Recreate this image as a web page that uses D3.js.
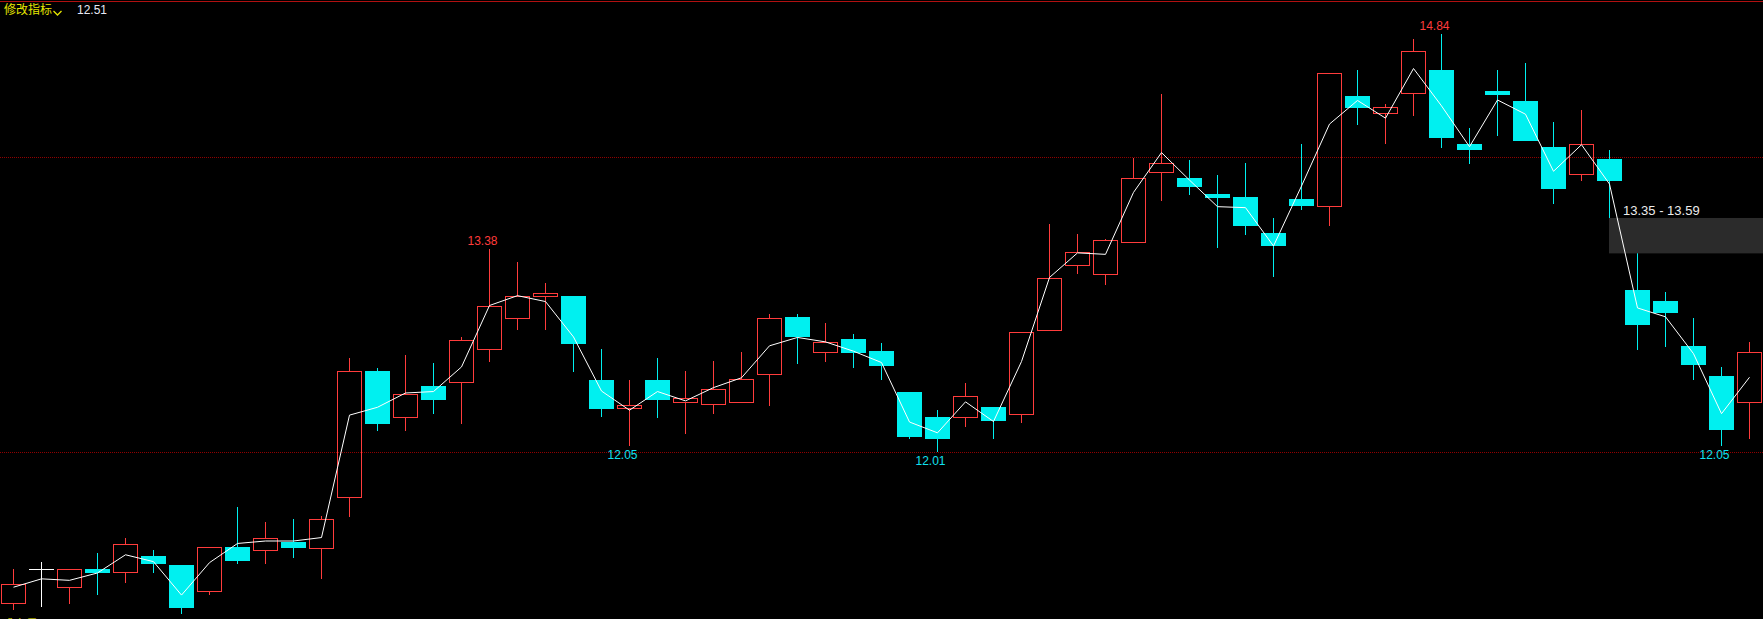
<!DOCTYPE html>
<html>
<head>
<meta charset="utf-8">
<script src="https://cdn.jsdelivr.net/npm/d3@7"></script>
<style>
  body { margin: 0; background: #000; overflow: hidden; }
  text { font-family: "Liberation Sans", Arial, sans-serif; font-size: 12px; }
</style>
</head>
<body>
<script>
let width = 1763;
let height = 619;

// daily candles
var opens  = [10.98,11.21,11.09,11.21,11.19,11.30,11.24,11.06,11.36,11.34,11.39,11.35,11.70,12.55,12.24,12.45,12.48,12.70,12.91,13.06,
              13.06,12.49,12.30,12.49,12.34,12.33,12.34,12.53,12.92,12.68,12.77,12.69,12.41,12.24,12.24,12.31,12.26,12.83,13.27,13.21,
              13.43,13.90,13.86,13.75,13.73,13.49,13.72,13.67,14.42,14.30,14.44,14.59,14.09,14.45,14.38,14.07,13.89,13.99,13.10,13.03,
              12.72,12.52,12.34];
var highs  = [11.21,11.26,11.21,11.32,11.42,11.34,11.24,11.36,11.63,11.53,11.55,11.57,12.64,12.57,12.66,12.61,12.78,13.38,13.29,13.15,
              13.06,12.70,12.49,12.64,12.55,12.62,12.68,12.94,12.94,12.88,12.80,12.74,12.41,12.29,12.47,12.31,12.82,13.55,13.48,13.45,
              14.00,14.43,13.98,13.88,13.96,13.59,14.09,14.57,14.59,14.36,14.80,14.84,14.20,14.59,14.64,14.24,14.32,14.05,13.37,13.09,
              12.91,12.58,12.75];
var lows   = [10.94,10.96,10.98,11.04,11.12,11.19,10.91,11.04,11.25,11.25,11.29,11.15,11.57,12.15,12.15,12.27,12.20,12.62,12.84,12.84,
              12.55,12.25,12.05,12.24,12.13,12.27,12.34,12.32,12.61,12.62,12.58,12.50,12.10,12.01,12.18,12.10,12.21,12.83,13.22,13.14,
              13.43,13.71,13.75,13.39,13.48,13.20,13.65,13.54,14.23,14.10,14.29,14.07,13.96,14.15,14.12,13.69,13.85,13.56,12.70,12.72,
              12.50,12.05,12.10];
var closes = [11.11,11.21,11.21,11.19,11.38,11.25,10.95,11.36,11.27,11.42,11.36,11.55,12.55,12.20,12.40,12.36,12.76,12.99,13.06,13.08,
              12.74,12.30,12.32,12.36,12.37,12.43,12.50,12.91,12.79,12.75,12.68,12.59,12.11,12.10,12.38,12.22,12.82,13.18,13.36,13.44,
              13.86,13.96,13.81,13.73,13.54,13.41,13.68,14.57,14.34,14.34,14.72,14.14,14.06,14.43,14.12,13.79,14.09,13.85,12.87,12.95,
              12.60,12.16,12.68];

var gridPrices = [14, 12];
var highMarks = [17, 51];
var lowMarks = [22, 33, 61];
var rangeStart = 57;
var rangeBand = [13.35, 13.59];
var indicatorName = "修改指标";

var UP = "#ff3c3c", DOWN = "#00f0f0";

var candles = opens.map(function (o, i) {
  return { i: i, o: o, h: highs[i], l: lows[i], c: closes[i], tp: (highs[i] + lows[i] + closes[i]) / 3 };
});

var svg = d3.select("body").append("svg")
  .attr("width", width)
  .attr("height", height);

var x = d3.scaleLinear().domain([0, 62]).range([13.5, 13.5 + 28 * 62]);
var y = d3.scaleLinear().domain([14, 12]).range([157.5, 452.5]);
function py(p) { return Math.round(y(p)); }

// top border + dotted grid
svg.append("line").attr("x1", 0).attr("x2", width).attr("y1", 1.5).attr("y2", 1.5)
  .attr("stroke", "#b01010");
svg.selectAll(".grid").data(gridPrices).enter().append("line")
  .attr("x1", 0).attr("x2", width)
  .attr("y1", d => Math.round(y(d) - 0.5) + 0.5)
  .attr("y2", d => Math.round(y(d) - 0.5) + 0.5)
  .attr("stroke", "#900000")
  .attr("stroke-dasharray", "1,1");

var g = svg.append("g").attr("shape-rendering", "crispEdges");

candles.forEach(function (d) {
  var cx = x(d.i);
  var top = Math.max(d.o, d.c), bot = Math.min(d.o, d.c);
  if (d.c > d.o) {
    // hollow red
    g.append("line").attr("x1", cx).attr("x2", cx).attr("y1", py(d.h)).attr("y2", py(top)).attr("stroke", UP);
    g.append("line").attr("x1", cx).attr("x2", cx).attr("y1", py(bot)).attr("y2", py(d.l) + 1).attr("stroke", UP);
    g.append("rect").attr("x", cx - 12).attr("y", py(top) + 0.5)
      .attr("width", 24).attr("height", Math.max(1, py(bot) - py(top)))
      .attr("fill", "none").attr("stroke", UP);
  } else if (d.c < d.o) {
    g.append("line").attr("x1", cx).attr("x2", cx).attr("y1", py(d.h)).attr("y2", py(d.l) + 1).attr("stroke", DOWN);
    g.append("rect").attr("x", cx - 12.5).attr("y", py(top))
      .attr("width", 25).attr("height", Math.max(2, py(bot) - py(top) + 1))
      .attr("fill", DOWN);
  } else {
    g.append("line").attr("x1", cx).attr("x2", cx).attr("y1", py(d.h)).attr("y2", py(d.l) + 1).attr("stroke", "#fff");
    g.append("line").attr("x1", cx - 12.5).attr("x2", cx + 12.5).attr("y1", py(d.o) + 0.5).attr("y2", py(d.o) + 0.5).attr("stroke", "#fff");
  }
});

// price band box
svg.append("rect")
  .attr("x", Math.round(x(rangeStart) - 0.5))
  .attr("y", y(rangeBand[1]))
  .attr("width", width - Math.round(x(rangeStart) - 0.5))
  .attr("height", y(rangeBand[0]) - y(rangeBand[1]))
  .attr("fill", "#2b2b2b");
svg.append("text")
  .attr("x", x(rangeStart) + 13.5)
  .attr("y", y(rangeBand[1]) - 3)
  .attr("fill", "#ececec")
  .style("font-size", "13px")
  .text(rangeBand[0].toFixed(2) + " - " + rangeBand[1].toFixed(2));

// typical price line
svg.append("path")
  .datum(candles)
  .attr("d", d3.line().x(d => x(d.i)).y(d => y(d.tp)))
  .attr("fill", "none")
  .attr("stroke", "#ffffff")
  .attr("stroke-width", 1);

// extreme marks
svg.selectAll(".hi").data(highMarks).enter().append("text")
  .attr("x", i => x(i) - 7)
  .attr("y", i => y(highs[i]) - 4)
  .attr("text-anchor", "middle")
  .attr("fill", UP)
  .text(i => highs[i].toFixed(2));
svg.selectAll(".lo").data(lowMarks).enter().append("text")
  .attr("x", i => x(i) - 7)
  .attr("y", i => y(lows[i]) + 13.5)
  .attr("text-anchor", "middle")
  .attr("fill", "#10e0f0")
  .text(i => lows[i].toFixed(2));

// header
svg.append("text").attr("x", 4).attr("y", 14)
  .style("font-family", "'Noto Sans CJK SC', sans-serif")
  .attr("fill", "#e6e600").text(indicatorName);
svg.append("polyline").attr("points", "53.5,11 57.5,15 61.5,11")
  .attr("fill", "none").attr("stroke", "#e6e600").attr("stroke-width", 1.3);
svg.append("text").attr("x", 77).attr("y", 14)
  .attr("fill", "#e8e8f4")
  .text(candles[candles.length - 1].tp.toFixed(2));

// next pane label, cut off at the bottom
svg.append("text").attr("x", 2).attr("y", 628.5)
  .style("font-family", "'Noto Sans CJK SC', sans-serif")
  .attr("fill", "#e6e600").text("成交量");
</script>
</body>
</html>
